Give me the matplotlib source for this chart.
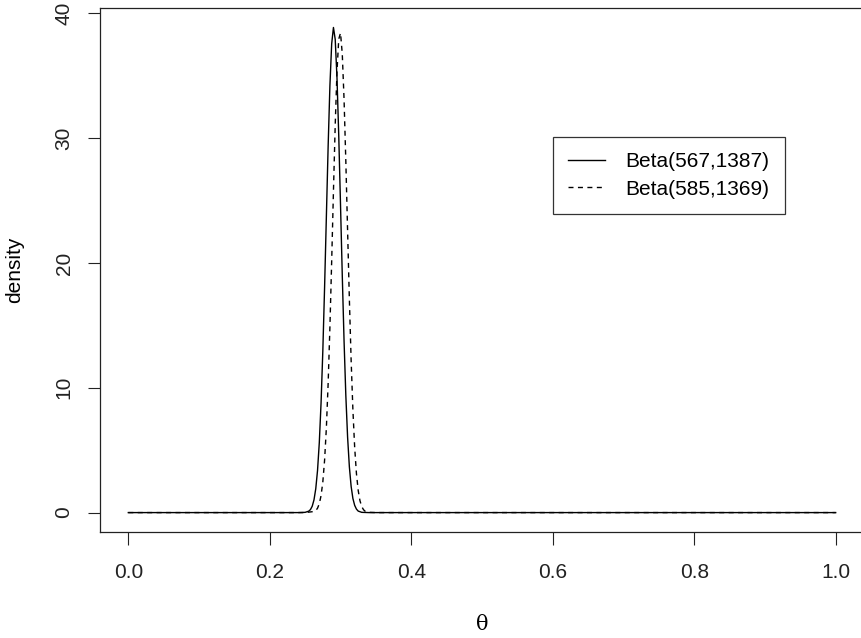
import matplotlib
matplotlib.use("Agg")
import matplotlib.pyplot as plt

plt.rcParams['font.family'] = ['Liberation Sans', 'DejaVu Sans']

# theta grid and densities (Beta(567,1387), solid)
theta1 = [0.0, 0.24, 0.25, 0.255, 0.2575, 0.26, 0.2625, 0.265, 0.2675, 0.27,
          0.2725, 0.275, 0.2775, 0.28, 0.2825, 0.285, 0.2875, 0.29, 0.2925,
          0.295, 0.2975, 0.30, 0.3025, 0.305, 0.3075, 0.31, 0.3125, 0.315,
          0.3175, 0.32, 0.3225, 0.325, 0.33, 0.34, 1.0]
dens1 = [0.0, 0.0, 0.02, 0.11, 0.24, 0.51, 1.02, 1.91, 3.37, 5.60,
         8.79, 12.98, 18.09, 23.72, 29.34, 34.19, 37.55, 38.86, 37.91,
         34.84, 30.19, 24.64, 18.96, 13.75, 9.39, 6.05, 3.67, 2.10,
         1.13, 0.58, 0.28, 0.12, 0.02, 0.0, 0.0]

# Beta(585,1369), dashed
theta2 = [0.0, 0.25, 0.26, 0.265, 0.2675, 0.27, 0.2725, 0.275, 0.2775, 0.28,
          0.2825, 0.285, 0.2875, 0.29, 0.2925, 0.295, 0.2975, 0.30, 0.3025,
          0.305, 0.3075, 0.31, 0.3125, 0.315, 0.3175, 0.32, 0.3225, 0.325,
          0.3275, 0.33, 0.3325, 0.335, 0.34, 0.35, 1.0]
dens2 = [0.0, 0.0, 0.07, 0.16, 0.35, 0.71, 1.36, 2.46, 4.21, 6.79,
         10.34, 14.85, 20.13, 25.74, 31.04, 35.33, 37.93, 38.42, 36.72,
         33.10, 28.15, 22.59, 17.10, 12.21, 8.23, 5.23, 3.13, 1.77,
         0.95, 0.48, 0.23, 0.10, 0.02, 0.0, 0.0]

labels = ["Beta(567,1387)", "Beta(585,1369)"]
xticks = [0.0, 0.2, 0.4, 0.6, 0.8, 1.0]
yticks = [0, 10, 20, 30, 40]

W, H = 862, 638
fig = plt.figure(figsize=(W / 100, H / 100), dpi=100)
ax = fig.add_axes([100 / W, (H - 532) / H, (864 - 100) / W, (532 - 8) / H])

ax.plot(theta1, dens1, color="black", lw=1.0, label=labels[0])
ax.plot(theta2, dens2, color="black", lw=1.0, dashes=(3.6, 3.2), label=labels[1])

ax.set_xlim(-0.04, 1.04)
ax.set_ylim(-1.555, 40.42)
ax.set_xticks(xticks)
ax.set_xticklabels(["%.1f" % v for v in xticks])
ax.set_yticks(yticks)
ax.set_yticklabels([str(v) for v in yticks], rotation=90, va="center")
ax.tick_params(direction="out", length=9, width=0.8, labelsize=15, colors="#222222")
ax.tick_params(axis="x", pad=13)
ax.tick_params(axis="y", pad=10)
for s in ax.spines.values():
    s.set_linewidth(0.9)
    s.set_color("#222222")

fig.text(482 / W, 1 - 625 / H, "θ", fontsize=15, family="DejaVu Serif",
         ha="center", va="center")
fig.text(15 / W, 1 - 270 / H, "density", fontsize=15, rotation=90,
         ha="center", va="center")

leg = ax.legend(loc="upper left", bbox_to_anchor=(553 / W, 1 - 137 / H),
                bbox_transform=fig.transFigure, fontsize=15, frameon=True,
                fancybox=False, edgecolor="black", handlelength=1.75,
                handletextpad=1.0, borderpad=0.73, labelspacing=0.4,
                borderaxespad=0)
leg.get_frame().set_linewidth(0.9)

fig.savefig("out.png", dpi=100)
